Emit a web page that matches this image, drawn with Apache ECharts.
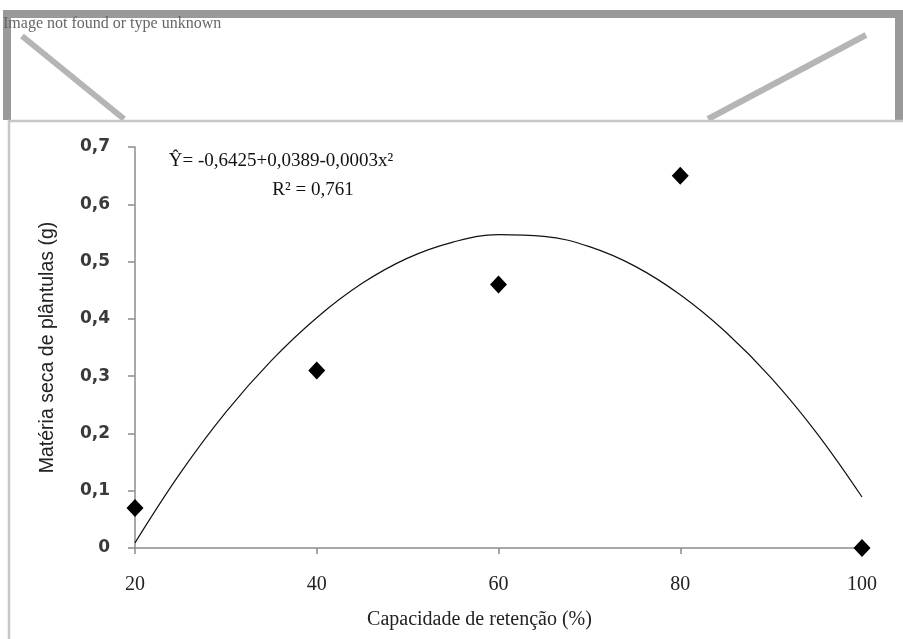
<!DOCTYPE html>
<html>
<head>
<meta charset="utf-8">
<script src="https://cdnjs.cloudflare.com/ajax/libs/echarts/6.0.0/echarts.min.js"></script>
<style>
    html, body { margin: 0; padding: 0; background: #fff; }
    #chart { width: 903px; height: 639px; }
</style>
</head>
<body>
<div id="chart"></div>
<script>
    // observed means
    var capacidade = [20, 40, 60, 80, 100];
    var materiaSeca = [0.07, 0.31, 0.46, 0.65, 0.0];

    // fitted curve, every 5 %
    var curvaX = [20, 25, 30, 35, 40, 45, 50, 55, 60, 65, 70, 75, 80, 85, 90, 95, 100];
    var curvaY = [0.009, 0.131, 0.237, 0.327, 0.402, 0.462, 0.506, 0.534, 0.547, 0.544, 0.526, 0.492, 0.442, 0.377, 0.297, 0.201, 0.089];

    var xTicks = [20, 40, 60, 80, 100];
    var yTicks = [0, 0.1, 0.2, 0.3, 0.4, 0.5, 0.6, 0.7];

    var equacao = 'Ŷ= -0,6425+0,0389-0,0003x²';
    var r2 = 'R² = 0,761';

    var myChart = echarts.init(document.getElementById('chart'));

    var axisGray = '#8c8c8c';

    var option = {
        animation: false,
        backgroundColor: '#fff',
        grid: {
            left: 135,
            right: 41,
            top: 147,
            bottom: 91
        },
        xAxis: {
            type: 'value',
            min: xTicks[0],
            max: xTicks[xTicks.length - 1],
            interval: 20,
            name: 'Capacidade de retenção (%)',
            nameLocation: 'middle',
            nameGap: 62,
            nameTextStyle: {
                fontFamily: 'Liberation Serif',
                fontSize: 20,
                color: '#222',
                padding: [0, 38, 0, 0]
            },
            axisLine: { lineStyle: { color: axisGray, width: 1.5 } },
            axisTick: { show: true, length: 6, inside: false, lineStyle: { color: axisGray, width: 1.5 } },
            axisLabel: {
                margin: 27,
                fontFamily: 'Liberation Serif',
                fontSize: 20,
                color: '#222'
            },
            splitLine: { show: false }
        },
        yAxis: {
            type: 'value',
            min: 0,
            max: yTicks[yTicks.length - 1],
            interval: 0.1,
            name: 'Matéria seca de plântulas (g)',
            nameLocation: 'middle',
            nameGap: 77,
            nameRotate: 90,
            nameTextStyle: {
                fontFamily: 'Liberation Sans',
                fontSize: 19.5,
                color: '#222'
            },
            axisLine: { show: true, lineStyle: { color: axisGray, width: 1.5 } },
            axisTick: { show: true, length: 7, lineStyle: { color: axisGray, width: 1.5 } },
            axisLabel: {
                margin: 25,
                fontFamily: 'DejaVu Sans',
                fontSize: 17,
                fontWeight: 'bold',
                color: '#3a3a3a',
                formatter: function (v) {
                    if (v === 0) return '0';
                    return v.toFixed(1).replace('.', ',');
                }
            },
            splitLine: { show: false }
        },
        series: [
            {
                name: 'curva',
                type: 'line',
                smooth: 0.4,
                showSymbol: false,
                data: curvaX.map(function (x, i) { return [x, curvaY[i]]; }),
                lineStyle: { color: '#111', width: 1.2 },
                z: 2
            },
            {
                name: 'média',
                type: 'scatter',
                symbol: 'diamond',
                symbolSize: [17, 18],
                data: capacidade.map(function (x, i) { return [x, materiaSeca[i]]; }),
                itemStyle: { color: '#000', opacity: 1 },
                clip: false,
                z: 3
            }
        ],
        graphic: [
            // broken image placeholder above the chart
            {
                type: 'polyline',
                shape: { points: [[7, 120], [7, 14], [899, 14], [899, 120]] },
                style: { fill: 'none', stroke: '#999', lineWidth: 8 },
                z: 1
            },
            {
                type: 'text',
                left: 3,
                top: 16,
                style: {
                    text: 'Image not found or type unknown',
                    fontFamily: 'Liberation Serif',
                    fontSize: 16,
                    fill: '#666'
                },
                z: 2
            },
            {
                type: 'line',
                shape: { x1: 22, y1: 36, x2: 124, y2: 119 },
                style: { stroke: '#b5b5b5', lineWidth: 6 },
                z: 1
            },
            {
                type: 'line',
                shape: { x1: 866, y1: 35, x2: 708, y2: 119 },
                style: { stroke: '#b5b5b5', lineWidth: 6 },
                z: 1
            },
            // frame of the chart picture
            {
                type: 'polyline',
                shape: { points: [[9, 645], [9, 121], [905, 121]] },
                style: { fill: 'none', stroke: '#c8c8c8', lineWidth: 2.5 },
                z: 1
            },
            {
                type: 'text',
                x: 281,
                y: 161,
                style: {
                    text: equacao,
                    fontFamily: 'Liberation Serif',
                    fontSize: 19,
                    fill: '#111',
                    align: 'center',
                    verticalAlign: 'middle'
                },
                z: 5
            },
            {
                type: 'text',
                x: 313,
                y: 190,
                style: {
                    text: r2,
                    fontFamily: 'Liberation Serif',
                    fontSize: 19,
                    fill: '#111',
                    align: 'center',
                    verticalAlign: 'middle'
                },
                z: 5
            }
        ]
    };

    myChart.setOption(option);
</script>
</body>
</html>
